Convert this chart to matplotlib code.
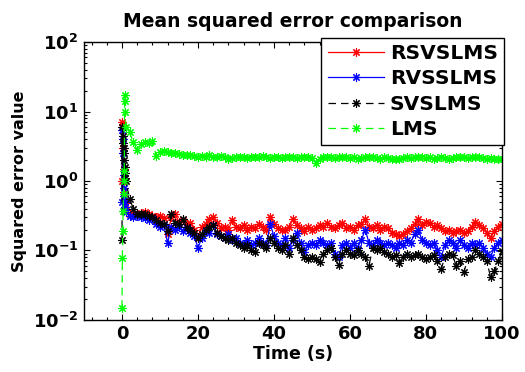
import matplotlib
matplotlib.use("Agg")
import matplotlib.pyplot as plt
from matplotlib.ticker import FixedLocator, FixedFormatter, LogLocator, NullFormatter, MultipleLocator

# ---------------- data ----------------
t_early = [0, 0.1, 0.2, 0.3, 0.4, 0.5, 0.6, 0.7, 0.8, 0.9]
t_main = list(range(1, 101))
time = t_early + t_main

rsvslms_early = [1.0, 7.0, 6.5, 3.0, 1.5, 1.0, 0.7, 0.55, 0.48, 0.42]
rsvslms_main = [
    0.38, 0.33, 0.34, 0.33, 0.35, 0.36, 0.33, 0.31, 0.30, 0.31,
    0.29, 0.17, 0.30, 0.33, 0.26, 0.27, 0.24, 0.25, 0.20, 0.15,
    0.22, 0.24, 0.28, 0.30, 0.25, 0.21, 0.22, 0.20, 0.27, 0.22,
    0.21, 0.23, 0.20, 0.22, 0.21, 0.24, 0.22, 0.20, 0.30, 0.24,
    0.21, 0.20, 0.20, 0.22, 0.28, 0.23, 0.21, 0.19, 0.22, 0.20,
    0.21, 0.23, 0.22, 0.25, 0.22, 0.21, 0.23, 0.25, 0.21, 0.22,
    0.20, 0.23, 0.24, 0.28, 0.22, 0.21, 0.23, 0.20, 0.22, 0.21,
    0.18, 0.17, 0.16, 0.17, 0.19, 0.21, 0.24, 0.28, 0.23, 0.26,
    0.25, 0.22, 0.23, 0.21, 0.19, 0.20, 0.18, 0.19, 0.20, 0.18,
    0.19, 0.22, 0.26, 0.23, 0.21, 0.18, 0.15, 0.19, 0.22, 0.24]

rvsslms_early = [0.5, 5.5, 4.0, 2.5, 1.2, 0.8, 0.6, 0.5, 0.42, 0.38]
rvsslms_main = [
    0.36, 0.31, 0.30, 0.31, 0.30, 0.29, 0.27, 0.29, 0.24, 0.22,
    0.23, 0.13, 0.22, 0.20, 0.22, 0.19, 0.21, 0.18, 0.16, 0.11,
    0.15, 0.19, 0.18, 0.23, 0.17, 0.16, 0.15, 0.17, 0.14, 0.15,
    0.13, 0.12, 0.14, 0.12, 0.13, 0.15, 0.13, 0.12, 0.24, 0.16,
    0.13, 0.12, 0.15, 0.11, 0.14, 0.18, 0.13, 0.095, 0.12, 0.13,
    0.12, 0.14, 0.13, 0.12, 0.13, 0.09, 0.08, 0.12, 0.13, 0.11,
    0.13, 0.11, 0.14, 0.20, 0.13, 0.12, 0.14, 0.13, 0.12, 0.13,
    0.12, 0.11, 0.13, 0.12, 0.14, 0.13, 0.17, 0.20, 0.14, 0.13,
    0.12, 0.13, 0.10, 0.08, 0.12, 0.14, 0.13, 0.11, 0.14, 0.12,
    0.11, 0.13, 0.12, 0.13, 0.11, 0.09, 0.08, 0.11, 0.13, 0.14]

svslms_early = [0.14, 6.0, 4.5, 3.5, 3.0, 2.5, 2.0, 1.6, 1.3, 1.1]
svslms_main = [
    1.0, 0.55, 0.40, 0.34, 0.33, 0.33, 0.31, 0.30, 0.27, 0.25,
    0.24, 0.19, 0.33, 0.25, 0.24, 0.28, 0.22, 0.20, 0.18, 0.15,
    0.17, 0.20, 0.22, 0.23, 0.18, 0.16, 0.15, 0.14, 0.15, 0.13,
    0.12, 0.11, 0.12, 0.10, 0.095, 0.13, 0.12, 0.11, 0.15, 0.13,
    0.11, 0.10, 0.12, 0.09, 0.15, 0.12, 0.10, 0.08, 0.075, 0.08,
    0.075, 0.068, 0.09, 0.10, 0.11, 0.08, 0.062, 0.09, 0.10, 0.09,
    0.085, 0.10, 0.09, 0.08, 0.06, 0.11, 0.10, 0.11, 0.095, 0.09,
    0.08, 0.085, 0.066, 0.08, 0.09, 0.08, 0.085, 0.09, 0.08, 0.075,
    0.08, 0.085, 0.07, 0.054, 0.08, 0.09, 0.085, 0.06, 0.07, 0.049,
    0.075, 0.08, 0.10, 0.09, 0.08, 0.07, 0.042, 0.05, 0.07, 0.098]

lms_early = [0.015, 0.078, 0.19, 0.37, 0.65, 1.0, 1.4, 17.0, 14.0, 10.0]
lms_main = [
    6.0, 5.0, 3.6, 2.8, 3.4, 3.7, 3.5, 3.8, 2.3, 2.6,
    2.7, 2.6, 2.55, 2.5, 2.45, 2.4, 2.35, 2.4, 2.3, 2.25,
    2.3, 2.2, 2.35, 2.25, 2.2, 2.3, 2.2, 2.1, 2.15, 2.2,
    2.25, 2.2, 2.15, 2.2, 2.25, 2.2, 2.3, 2.2, 2.15, 2.25,
    2.2, 2.15, 2.2, 2.25, 2.2, 2.15, 2.2, 2.25, 2.2, 2.15,
    1.8, 2.1, 2.2, 2.25, 2.2, 2.15, 2.2, 2.25, 2.2, 2.15,
    2.2, 2.1, 2.15, 2.2, 2.25, 2.2, 2.15, 2.1, 2.2, 2.15,
    2.1, 2.05, 2.1, 2.15, 2.2, 2.15, 2.2, 2.25, 2.2, 2.15,
    2.2, 2.1, 2.15, 2.2, 2.15, 2.1, 2.15, 2.2, 2.25, 2.2,
    2.15, 2.2, 2.25, 2.2, 2.15, 2.1, 2.15, 2.1, 2.05, 2.1]

series_names = ["RSVSLMS", "RVSSLMS", "SVSLMS", "LMS"]
series_values = [rsvslms_early + rsvslms_main,
                 rvsslms_early + rvsslms_main,
                 svslms_early + svslms_main,
                 lms_early + lms_main]

x_ticks = [0, 20, 40, 60, 80, 100]
y_ticks = [1e-2, 1e-1, 1e0, 1e1, 1e2]
y_tick_labels = [r"$\mathbf{10^{-2}}$", r"$\mathbf{10^{-1}}$", r"$\mathbf{10^{0}}$",
                 r"$\mathbf{10^{1}}$", r"$\mathbf{10^{2}}$"]

# ---------------- styling ----------------
colors = ["#ff0000", "#0000ff", "#000000", "#00ff00"]
linestyles = ["-", "-", (0, (6, 4)), (0, (6, 4))]
asterisk = (8, 2, 0)

plt.rcParams["font.family"] = "DejaVu Sans"
plt.rcParams["font.weight"] = "bold"
plt.rcParams["mathtext.default"] = "bf"

fig = plt.figure(figsize=(5.25, 3.72), dpi=100)
ax = fig.add_axes([0.160, 0.140, 0.796, 0.747])

for name, vals, c, ls in zip(series_names, series_values, colors, linestyles):
    ax.plot(time, vals, color=c, linestyle=ls, linewidth=0.9,
            marker=asterisk, markersize=6, markeredgewidth=0.8,
            markeredgecolor=c, label=name)

ax.set_yscale("log")
ax.set_xlim(-10, 100)
ax.set_ylim(1e-2, 1e2)

ax.xaxis.set_major_locator(FixedLocator(x_ticks))
ax.xaxis.set_minor_locator(MultipleLocator(4))
ax.yaxis.set_major_locator(FixedLocator(y_ticks))
ax.yaxis.set_major_formatter(FixedFormatter(y_tick_labels))
ax.yaxis.set_minor_locator(LogLocator(base=10, subs=range(2, 10)))
ax.yaxis.set_minor_formatter(NullFormatter())

ax.tick_params(which="both", direction="in", top=True, right=True, width=0.8)
ax.tick_params(which="major", length=4, labelsize=13, pad=4)
ax.tick_params(which="minor", length=2)
for lab in ax.get_xticklabels():
    lab.set_fontweight("bold")

for sp in ax.spines.values():
    sp.set_linewidth(1.0)
    sp.set_color("black")

ax.set_title("Mean squared error comparison", fontsize=13.5, fontweight="bold", pad=11)
ax.set_xlabel("Time (s)", fontsize=12.5, fontweight="bold", labelpad=1)
ax.set_ylabel("Squared error value", fontsize=11.5, fontweight="bold", labelpad=4)

leg = ax.legend(loc="upper right", bbox_to_anchor=(1.005, 1.015), fontsize=14.5,
                frameon=True, fancybox=False, edgecolor="black", framealpha=1,
                handlelength=2.8, handletextpad=0.3, borderpad=0.3,
                labelspacing=0.32, borderaxespad=0.0, numpoints=1)
leg.get_frame().set_linewidth(1.0)
for txt in leg.get_texts():
    txt.set_fontweight("bold")

fig.savefig("out.png", dpi=100)
